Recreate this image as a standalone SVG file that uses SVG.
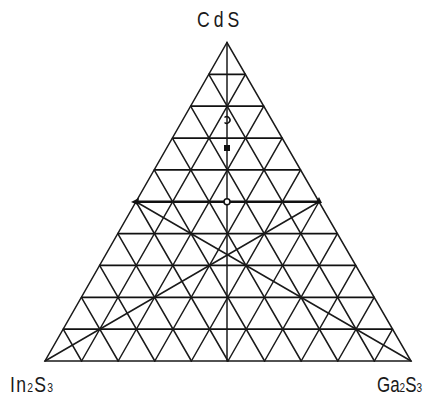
<svg xmlns="http://www.w3.org/2000/svg" width="442" height="399" viewBox="0 0 442 399">
<style>
.g{stroke:#1a1a1a;stroke-width:1.5;fill:none;stroke-linecap:round}
.h{stroke:#111;stroke-width:1.7;fill:none}
.t{font-family:"Liberation Sans",Arial,sans-serif;fill:#1a1a1a;font-size:22px}
.s{font-size:13px}
</style>
<rect width="442" height="399" fill="#fff"/>
<g id="connectors">
<polygon class="g" points="45,361 411,361 227,42.5"/>
<g class="h">
<line x1="63.2" y1="329.15" x2="392.6" y2="329.15"/>
<line x1="81.4" y1="297.3" x2="374.2" y2="297.3"/>
<line x1="99.6" y1="265.45" x2="355.8" y2="265.45"/>
<line x1="117.8" y1="233.6" x2="337.4" y2="233.6"/>
<line x1="154.2" y1="169.9" x2="300.6" y2="169.9"/>
<line x1="172.4" y1="138.05" x2="282.2" y2="138.05"/>
<line x1="190.6" y1="106.2" x2="263.8" y2="106.2"/>
<line x1="208.8" y1="74.35" x2="245.4" y2="74.35"/>
</g>
<line x1="136" y1="201.75" x2="319" y2="201.75" stroke="#111" stroke-width="2.5"/>
<g class="g">
<line x1="81.6" y1="361" x2="245.4" y2="74.35"/>
<line x1="118.2" y1="361" x2="263.8" y2="106.2"/>
<line x1="154.8" y1="361" x2="282.2" y2="138.05"/>
<line x1="191.4" y1="361" x2="300.6" y2="169.9"/>
<line x1="228" y1="361" x2="319" y2="201.75"/>
<line x1="264.6" y1="361" x2="337.4" y2="233.6"/>
<line x1="301.2" y1="361" x2="355.8" y2="265.45"/>
<line x1="337.8" y1="361" x2="374.2" y2="297.3"/>
<line x1="374.4" y1="361" x2="392.6" y2="329.15"/>
<line x1="81.6" y1="361" x2="63.2" y2="329.15"/>
<line x1="118.2" y1="361" x2="81.4" y2="297.3"/>
<line x1="154.8" y1="361" x2="99.6" y2="265.45"/>
<line x1="191.4" y1="361" x2="117.8" y2="233.6"/>
<line x1="228" y1="361" x2="136" y2="201.75"/>
<line x1="264.6" y1="361" x2="154.2" y2="169.9"/>
<line x1="301.2" y1="361" x2="172.4" y2="138.05"/>
<line x1="337.8" y1="361" x2="190.6" y2="106.2"/>
<line x1="374.4" y1="361" x2="208.8" y2="74.35"/>
<line x1="227" y1="42.5" x2="227" y2="361"/>
<line x1="45" y1="361" x2="319" y2="201.75"/>
<line x1="411" y1="361" x2="136" y2="201.75"/>
</g>
</g>
<g id="node-CdIn2S4"><path d="M131,202 L139,198 L138,205 Z" fill="#111"/></g>
<g id="node-CdGa2S4"><path d="M322,203 L315,204 L319,197 Z" fill="#111"/></g>
<g id="node-CdInGaS4"><circle cx="227" cy="201.75" r="3" fill="#fff" stroke="#111" stroke-width="1.6"/></g>
<g id="node-square"><rect x="224" y="145" width="6" height="6" fill="#111"/></g>
<g id="node-open"><path d="M224.5,117.5 A3.3,3.3 0 1 1 224.5,122.5" fill="none" stroke="#111" stroke-width="1.5"/></g>
<g id="labels">
<text class="t" transform="translate(197,27) scale(0.8,1)" letter-spacing="5">CdS</text>
<text class="t" transform="translate(10,392) scale(0.8,1)" letter-spacing="1.6">In<tspan class="s">2</tspan>S<tspan class="s">3</tspan></text>
<text class="t" transform="translate(377,392) scale(0.77,1)">Ga<tspan class="s">2</tspan>S<tspan class="s">3</tspan></text>
</g>
</svg>
